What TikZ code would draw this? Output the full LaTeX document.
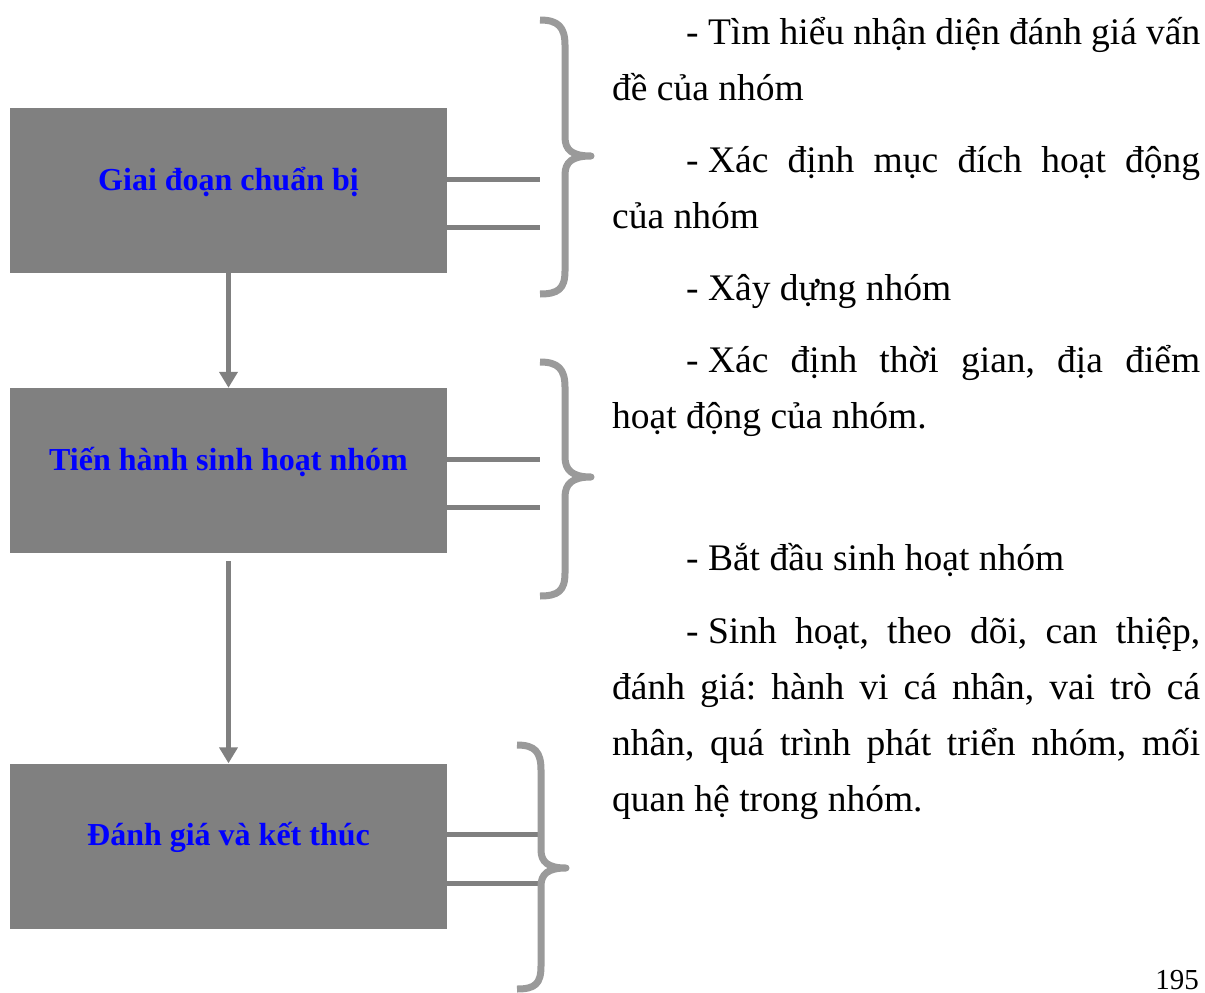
\documentclass[tikz,border=0pt]{standalone}
\usepackage{fontspec}
\setmainfont{Liberation Serif}
\usetikzlibrary{arrows.meta}
\definecolor{boxgray}{HTML}{808080}
\definecolor{bracegray}{HTML}{9A9A9A}
\definecolor{labelblue}{HTML}{0000FF}
\newcommand{\dsh}{-\kern0.25em}
\begin{document}
\frenchspacing
\begin{tikzpicture}[x=1pt,y=-1pt,
  box/.style={draw=none,fill=boxgray,minimum width=437pt,minimum height=165pt,inner sep=0pt},
  boxlabel/.style={text=labelblue,font=\fontsize{32}{38}\selectfont\bfseries,anchor=base,inner sep=0pt},
  body/.style={font=\fontsize{37.5}{45}\selectfont\frenchspacing,anchor=base west,inner sep=0pt},
  conn/.style={draw=boxgray,line width=5pt},
  arr/.style={draw=boxgray,line width=5pt,-{Triangle[width=18pt,length=16pt]}},
  brace/.style={draw=bracegray,line width=7pt,line join=round}]
\useasboundingbox (0,0) rectangle (1205,993);

% boxes
\node[box] (b1) at (228.5,190.5) {};
\node[box] (b2) at (228.5,470.5) {};
\node[box] (b3) at (228.5,846) {};
\node[boxlabel] (l1) at (228.5,190) {Giai đoạn chuẩn bị};
\node[boxlabel] (l2) at (228.5,470) {Tiến hành sinh hoạt nhóm};
\node[boxlabel] (l3) at (228.5,845) {Đánh giá và kết thúc};

% arrows
\draw[arr] (b1.south) -- (b2.north);
\draw[arr,shorten <=8pt] (b2.south) -- (b3.north);

% side connectors
\coordinate (c1a) at (540,179);
\coordinate (c1b) at (540,227);
\coordinate (c2a) at (540,459);
\coordinate (c2b) at (540,507);
\coordinate (c3a) at (540,834);
\coordinate (c3b) at (540,883);
\draw[conn] (b1.east |- c1a) -- (c1a);
\draw[conn] (b1.east |- c1b) -- (c1b);
\draw[conn] (b2.east |- c2a) -- (c2a);
\draw[conn] (b2.east |- c2b) -- (c2b);
\draw[conn] (b3.east |- c3a) -- (c3a);
\draw[conn] (b3.east |- c3b) -- (c3b);

% braces
\draw[brace] (540,20) .. controls (558,20) and (565,27) .. (565,45) -- (565,137)
  .. controls (565,150) and (572,156) .. (591,156)
  .. controls (572,156) and (565,162) .. (565,175) -- (565,271)
  .. controls (565,289) and (558,294) .. (540,294);
\draw[brace] (540,362) .. controls (558,362) and (565,369) .. (565,387) -- (565,457)
  .. controls (565,470) and (572,477) .. (591,477)
  .. controls (572,477) and (565,484) .. (565,497) -- (565,573)
  .. controls (565,591) and (558,596) .. (540,596);
\draw[brace] (517,745) .. controls (535,745) and (541,752) .. (541,770) -- (541,850)
  .. controls (541,862) and (548,868) .. (566,868)
  .. controls (548,868) and (541,874) .. (541,886) -- (541,966)
  .. controls (541,984) and (535,989) .. (517,989);

% text
\node[body] (t1) at (686,44) {\makebox[514pt][s]{\dsh Tìm hiểu nhận diện đánh giá vấn}};
\node[body] (t2) at (612,100) {đề của nhóm};
\node[body] (t3) at (686,172) {\makebox[514pt][s]{\dsh Xác định mục đích hoạt động}};
\node[body] (t4) at (612,228) {của nhóm};
\node[body] (t5) at (686,300) {\dsh Xây dựng nhóm};
\node[body] (t6) at (686,372) {\makebox[514pt][s]{\dsh Xác định thời gian, địa điểm}};
\node[body] (t7) at (612,428) {hoạt động của nhóm.};
\node[body] (t8) at (686,570) {\dsh Bắt đầu sinh hoạt nhóm};
\node[body] (t9) at (686,643) {\makebox[514pt][s]{\dsh Sinh hoạt, theo dõi, can thiệp,}};
\node[body] (t10) at (612,699) {\makebox[588pt][s]{đánh giá: hành vi cá nhân, vai trò cá}};
\node[body] (t11) at (612,755) {\makebox[588pt][s]{nhân, quá trình phát triển nhóm, mối}};
\node[body] (t12) at (612,811) {quan hệ trong nhóm.};
\node[font=\fontsize{29}{34}\selectfont,anchor=base east,inner sep=0pt] (pg) at (1199,989) {195};
\end{tikzpicture}
\end{document}
